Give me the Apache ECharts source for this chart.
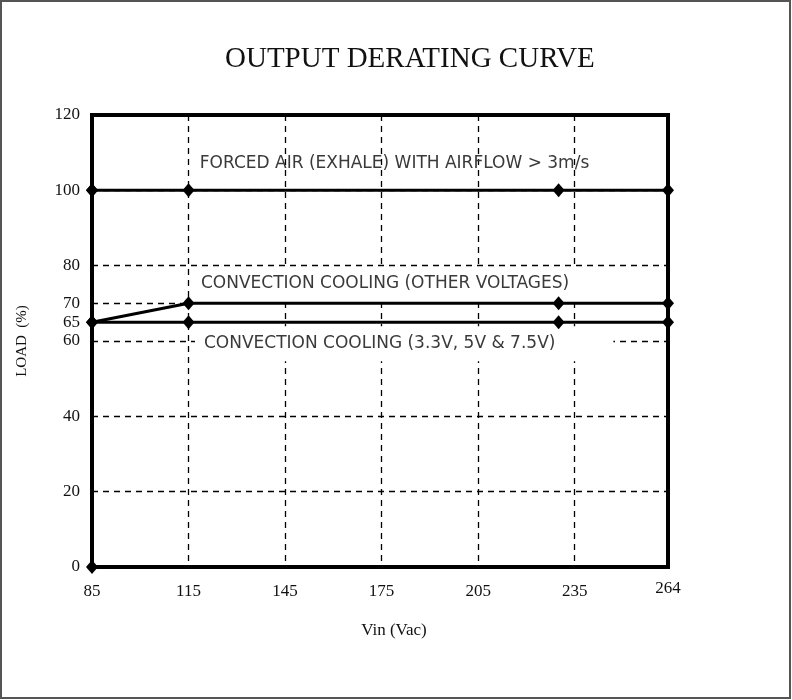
<!DOCTYPE html>
<html>
<head>
<meta charset="utf-8">
<script src="https://cdn.jsdelivr.net/npm/echarts@6/dist/echarts.min.js"></script>
<style>
html, body { margin: 0; padding: 0; background: #fff; }
#chart1 { width: 792px; height: 700px; }
</style>
</head>
<body>
<div id="chart1"></div>
<script>
// data
var xTicks = [85, 115, 145, 175, 205, 235, 264];   // Vin (Vac)
var yLabels = [0, 20, 40, 60, 65, 70, 80, 100, 120]; // LOAD (%)
var vin = [85, 115, 230, 264];
var forcedAir = [100, 100, 100, 100];
var convOther = [65, 70, 70, 70];
var convLow = [65, 65, 65, 65];
var edgeLoad = [0, 100]; // left edge, at 85 Vac

function pairs(xs, ys) {
    return xs.map(function (x, i) { return [x, ys[i]]; });
}

var dashed = { color: '#000', width: 1.3, type: [6, 5] };
var lineStyle = { color: '#000', width: 3 };
var serif = 'Liberation Serif';

option = {
    animation: false,
    backgroundColor: '#fff',
    title: {
        text: 'OUTPUT DERATING CURVE',
        left: 220,
        top: 40,
        textStyle: { fontFamily: serif, fontWeight: 'normal', fontSize: 29, color: '#111' }
    },
    graphic: [{
        type: 'rect',
        shape: { x: 1, y: 1, width: 789, height: 697 },
        style: { fill: 'none', stroke: '#555', lineWidth: 2 },
        silent: true
    }],
    grid: {
        left: 92, right: 124, top: 115, bottom: 133,
        show: true,
        borderColor: '#000',
        borderWidth: 4,
        z: 3
    },
    xAxis: {
        type: 'value',
        min: xTicks[0],
        max: xTicks[xTicks.length - 1],
        interval: 30,
        name: 'Vin (Vac)',
        nameLocation: 'middle',
        nameGap: 55,
        nameTextStyle: { fontFamily: serif, fontSize: 17, color: '#111', padding: [0, 0, 0, 28] },
        axisLine: { show: false },
        axisTick: { show: false },
        axisLabel: {
            fontFamily: serif, fontSize: 17, color: '#111', margin: 16,
            showMaxLabel: true,
            formatter: function (v) {
                return v === xTicks[xTicks.length - 1] ? '{hi|' + v + '}' : String(v);
            },
            rich: { hi: { fontFamily: serif, fontSize: 17, color: '#111', lineHeight: 11 } }
        },
        splitLine: { show: true, lineStyle: dashed }
    },
    yAxis: {
        type: 'value',
        min: 0,
        max: 120,
        interval: 20,
        name: 'LOAD  (%)',
        nameLocation: 'middle',
        nameGap: 62,
        nameTextStyle: { fontFamily: serif, fontSize: 15, color: '#111' },
        axisLine: { show: false },
        axisTick: { show: false },
        axisLabel: {
            customValues: yLabels,
            fontFamily: serif, fontSize: 17, color: '#111', margin: 12
        },
        splitLine: { show: true, lineStyle: dashed }
    },
    series: [
        {
            // text boxes, white background covers the grid
            type: 'line',
            data: [],
            z: 1,
            markPoint: {
                z: 1,
                symbol: 'circle',
                symbolSize: 0,
                label: {
                    show: true,
                    position: 'right',
                    distance: 0,
                    fontFamily: 'DejaVu Sans',
                    fontSize: 17,
                    color: '#3a3a3a'
                },
                data: [
                    { coord: [118.5, 107.2], value: 'FORCED AIR (EXHALE) WITH AIRFLOW > 3m/s',
                      label: { formatter: '{c}' } },
                    { coord: [117, 75.3], value: 'CONVECTION COOLING (OTHER VOLTAGES)',
                      label: { formatter: '{c}', backgroundColor: '#fff', padding: [7, 8, 7, 6] } },
                    { coord: [117, 59.3], value: 'CONVECTION COOLING (3.3V, 5V & 7.5V)',
                      label: { formatter: '{c}', backgroundColor: '#fff', padding: [9, 58, 9, 9] } }
                ]
            }
        },
        {
            name: 'edge',
            type: 'line',
            data: pairs([85, 85], edgeLoad),
            symbol: 'diamond',
            symbolSize: [12, 14],
            itemStyle: { color: '#000' },
            lineStyle: lineStyle,
            z: 4
        },
        {
            name: 'forced air',
            type: 'line',
            data: pairs(vin, forcedAir),
            symbol: 'diamond',
            symbolSize: [12, 14],
            itemStyle: { color: '#000' },
            lineStyle: lineStyle,
            z: 4
        },
        {
            name: 'convection other',
            type: 'line',
            data: pairs(vin, convOther),
            symbol: 'diamond',
            symbolSize: [12, 14],
            itemStyle: { color: '#000' },
            lineStyle: lineStyle,
            z: 4,
            markLine: {
                silent: true,
                symbol: 'none',
                label: { show: false },
                lineStyle: dashed,
                data: [[{ coord: [vin[0], convOther[1]] }, { coord: [vin[1], convOther[1]] }]]
            }
        },
        {
            name: 'convection low',
            type: 'line',
            data: pairs(vin, convLow),
            symbol: 'diamond',
            symbolSize: [12, 14],
            itemStyle: { color: '#000' },
            lineStyle: lineStyle,
            z: 4
        }
    ]
};

var myChart = echarts.init(document.getElementById('chart1'));
myChart.setOption(option);
</script>
</body>
</html>
